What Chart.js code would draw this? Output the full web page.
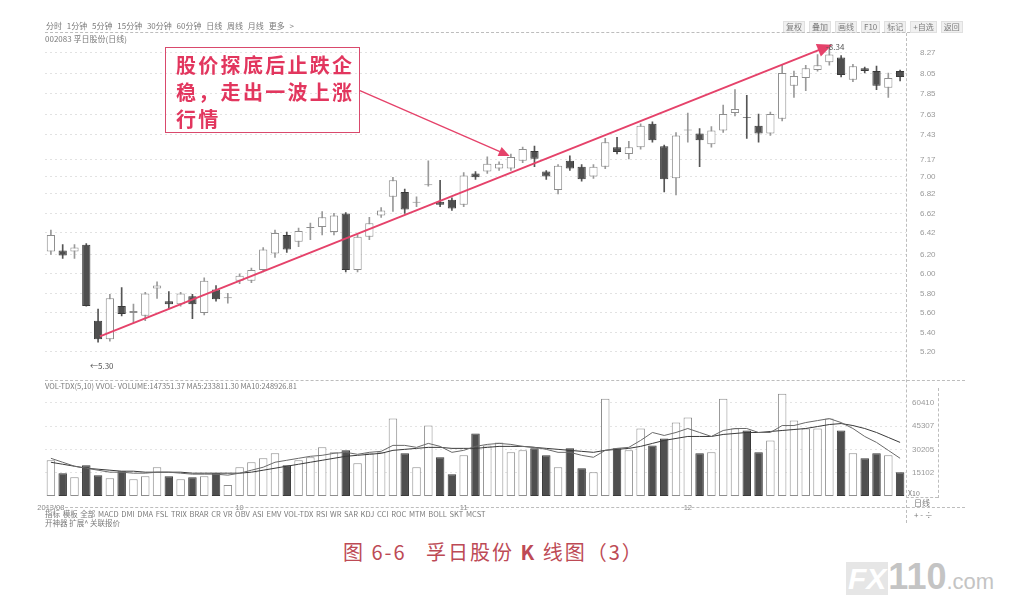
<!DOCTYPE html>
<html><head><meta charset="utf-8">
<script src="https://cdn.jsdelivr.net/npm/chart.js@4.4.0/dist/chart.umd.min.js"></script>
<style>
html,body{margin:0;padding:0;background:#fff;}
#wrap{position:relative;width:1013px;height:597px;overflow:hidden;background:#fff;font-family:"Noto Sans CJK SC","Noto Sans",sans-serif;}
canvas{position:absolute;left:0;}
.t{position:absolute;white-space:nowrap;color:#7a7a7a;font-size:8px;line-height:10px;}
.hl{position:absolute;height:0;border-top:1px dashed #bdbdbd;}
.vl{position:absolute;width:0;border-left:1px dashed #bdbdbd;}
.btn{display:inline-block;padding:0 2px;margin-right:4px;background:#f0f0f0;border:1px solid #e0e0e0;}
#note{position:absolute;left:165px;top:47px;width:195px;height:86px;border:1.5px solid #d9496c;box-sizing:border-box;
 color:#e2365e;font-weight:700;font-size:20px;line-height:27px;padding:3px 0 0 10px;letter-spacing:2.3px;}
#cap{position:absolute;left:343px;top:537px;color:#bd4a55;font-size:20px;letter-spacing:2px;white-space:nowrap;}
#wm{position:absolute;left:846px;top:556px;color:#c4c4c4;white-space:nowrap;font-family:"Liberation Sans",sans-serif;}
</style></head>
<body><div id="wrap">
<canvas id="pc" width="1013" height="380" style="top:0"></canvas>
<canvas id="vc" width="1013" height="140" style="top:380px"></canvas>

<div class="t" style="left:46px;top:21px;word-spacing:3px">分时 1分钟 5分钟 15分钟 30分钟 60分钟 日线 周线 月线 更多 &gt;</div>
<div class="t" style="left:45px;top:34px">002083 孚日股份(日线)</div>
<div class="t" style="left:783px;top:21px"><span class="btn">复权</span><span class="btn">叠加</span><span class="btn">画线</span><span class="btn">F10</span><span class="btn">标记</span><span class="btn">+自选</span><span class="btn">返回</span></div>
<div class="hl" style="left:45px;top:32px;width:865px"></div>
<div class="vl" style="left:906px;top:33px;height:490px"></div>
<div class="hl" style="left:45px;top:380px;width:920px"></div>
<div class="vl" style="left:938px;top:388px;height:110px"></div>
<div class="hl" style="left:906px;top:497px;width:32px"></div>
<div class="hl" style="left:45px;top:507px;width:920px"></div>
<div class="t" style="left:45px;top:381px;font-size:7.5px">VOL-TDX(5,10) VVOL- VOLUME:147351.37 MA5:233811.30 MA10:248926.81</div>
<div class="t" style="left:45px;top:509px;font-size:7.5px;word-spacing:1px">指标 模板 全部 MACD DMI DMA FSL TRIX BRAR CR VR OBV ASI EMV VOL-TDX RSI WR SAR KDJ CCI ROC MTM BOLL SKT MCST</div>
<div class="t" style="left:45px;top:518px;font-size:7.5px">开神器 扩展^ 关联报价</div>
<div class="t" style="left:908px;top:488px;font-size:7px">X10</div>
<div class="t" style="left:914px;top:498px">日线</div>
<div class="t" style="left:914px;top:510px">+ - ÷</div>
<div class="t" style="left:826px;top:42px;color:#555">-8.34</div>
<div class="t" style="left:90px;top:361px;color:#555">←5.30</div>

<div id="note">股价探底后止跌企<br>稳，走出一波上涨<br>行情</div>
<div id="cap">图 6-6&nbsp;&nbsp;&nbsp;孚日股份 <b>K</b> 线图（3）</div>
<div id="wm"><span style="font-size:30px;font-weight:700;font-style:italic;background:#e6e6e6;color:#fff;padding:0 2px">FX</span><span style="font-size:36px;font-weight:700">110</span><span style="font-size:22px">.com</span></div>
</div>
<script>
// ---------- DATA ----------
const opens  = [6.23,6.24,6.23,6.30,5.52,5.33,5.67,5.60,5.57,5.85,5.72,5.69,5.77,5.60,5.84,5.75,5.93,5.93,6.04,6.21,6.40,6.33,6.47,6.48,6.43,6.62,6.04,6.38,6.60,6.79,6.84,6.73,6.91,6.74,6.76,6.71,7.03,7.05,7.08,7.08,7.16,7.26,7.05,6.86,7.16,7.10,7.00,7.10,7.30,7.23,7.30,7.54,7.31,6.98,7.47,7.44,7.33,7.47,7.65,7.61,7.52,7.44,7.59,7.93,8.01,8.09,8.17,8.22,7.99,8.11,8.08,7.91,8.08];
const highs  = [6.45,6.30,6.30,6.31,5.64,5.79,5.86,5.69,5.81,5.92,5.82,5.81,5.79,5.96,5.88,5.80,6.00,6.06,6.27,6.45,6.43,6.47,6.52,6.64,6.62,6.63,6.40,6.58,6.68,6.99,6.87,6.79,7.16,6.96,6.78,7.04,7.05,7.20,7.15,7.23,7.30,7.31,7.06,7.12,7.21,7.12,7.12,7.39,7.40,7.36,7.54,7.56,7.32,7.45,7.65,7.49,7.51,7.73,7.89,7.83,7.64,7.66,8.14,8.08,8.14,8.25,8.34,8.24,8.15,8.12,8.13,8.06,8.09];
const lows   = [6.20,6.16,6.16,5.67,5.30,5.31,5.57,5.50,5.52,5.75,5.64,5.67,5.54,5.58,5.72,5.70,5.90,5.91,6.02,6.17,6.22,6.28,6.35,6.40,6.40,6.02,6.02,6.35,6.58,6.64,6.62,6.69,6.90,6.69,6.65,6.69,6.97,7.03,7.06,7.06,7.14,7.10,6.97,6.82,7.06,6.95,6.98,7.08,7.23,7.18,7.28,7.35,6.84,6.81,7.35,7.10,7.30,7.45,7.62,7.39,7.35,7.42,7.57,7.81,7.88,8.08,8.14,8.02,7.97,8.06,7.89,7.81,7.98];
const closes = [6.40,6.19,6.27,5.67,5.33,5.75,5.59,5.62,5.80,5.88,5.69,5.80,5.69,5.93,5.74,5.76,5.98,6.04,6.25,6.42,6.25,6.44,6.48,6.58,6.60,6.04,6.38,6.52,6.65,6.96,6.66,6.74,6.92,6.71,6.67,7.01,6.99,7.13,7.13,7.20,7.28,7.18,7.00,7.11,7.08,6.97,7.10,7.35,7.25,7.30,7.52,7.37,6.97,7.42,7.48,7.37,7.47,7.64,7.69,7.60,7.44,7.64,8.06,8.03,8.11,8.14,8.25,8.04,8.13,8.08,7.93,8.01,8.02];
const volumes = [23134,14780,12209,19921,13495,11567,16065,10924,12852,18635,12852,10924,12209,12852,14780,7069,18635,21848,24419,27632,19921,23134,25061,31487,28274,29560,21206,27632,28274,50123,27632,18635,45625,25061,14137,26347,40484,32773,34700,28274,29560,30845,26347,18635,30845,17993,15422,62975,30845,29560,43697,32773,37271,47552,50765,27632,28274,62975,43697,42412,28274,35986,66188,48838,43697,43697,50123,42412,27632,24419,27632,26347,15422];
const volMA5  = [24419,21848,19278,17993,16708,15422,15422,14780,14780,15422,15422,14780,14137,14137,14137,13495,14780,16708,18635,21848,23134,24419,25704,26347,27632,28274,26989,28274,28917,32773,32773,31487,34058,32130,28274,29560,32130,33415,34058,33415,32130,31487,30202,28274,28274,26347,25061,29560,30845,31487,35986,41126,39199,41126,43697,41126,38556,42412,43697,43697,41126,41126,45625,45625,47552,48838,50123,47552,43697,38556,34700,29560,24419];
const volMA10 = [21848,20563,19278,17993,17350,16708,16065,16065,15422,15422,15422,15422,14780,14780,14780,14780,14780,15422,16708,17993,19278,20563,21848,23134,24419,25704,26347,26989,27632,29560,30202,30845,31487,31487,30845,30845,30845,31487,32130,32130,32130,31487,30845,30202,29560,28917,28274,29560,30202,30845,32130,34058,35986,37271,38556,38556,38556,39841,40484,41126,41126,41769,42412,43054,43697,44982,46267,46910,45625,43697,41126,37913,34700];
const priceTicks = [5.20,5.40,5.60,5.80,6.00,6.20,6.42,6.62,6.82,7.00,7.17,7.43,7.63,7.85,8.05,8.27];
const volTicks = [15102,30205,45307,60410];
const monthTickIndex = [0,16,35,54];
const monthTickText = ['2013/08','10','11','12'];
const trendArrow = {from:[4.16,5.36], to:[66.25,8.35]};
const noteArrow  = {from:[26.2,7.88], to:[38.9,7.21]};
const days = opens.map((_, i) => String(i + 1));

// ---------- STYLE ----------
const isUp = opens.map((o, i) => closes[i] >= o);
const DARK = '#4f4f4f', HOLLOW_EDGE = '#8e8e8e';
const tickFont = {family:'Liberation Sans', size:8};

function arrowPlugin(arrs){
  return {id:'arrows', afterDatasetsDraw(chart){
    const {ctx, scales:{x,y}} = chart;
    arrs.forEach(a => {
      const x1=x.getPixelForValue(a.from[0]), y1=y.getPixelForValue(a.from[1]);
      const x2=x.getPixelForValue(a.to[0]), y2=y.getPixelForValue(a.to[1]);
      const ang=Math.atan2(y2-y1,x2-x1), L=a.head, W=a.head*0.45;
      ctx.save();
      ctx.strokeStyle=a.color; ctx.fillStyle=a.color; ctx.lineWidth=a.width;
      ctx.beginPath(); ctx.moveTo(x1,y1);
      ctx.lineTo(x2-Math.cos(ang)*L*0.8, y2-Math.sin(ang)*L*0.8); ctx.stroke();
      ctx.beginPath(); ctx.moveTo(x2,y2);
      ctx.lineTo(x2-Math.cos(ang)*L+Math.sin(ang)*W, y2-Math.sin(ang)*L-Math.cos(ang)*W);
      ctx.lineTo(x2-Math.cos(ang)*L-Math.sin(ang)*W, y2-Math.sin(ang)*L+Math.cos(ang)*W);
      ctx.closePath(); ctx.fill();
      ctx.restore();
    });
  }};
}

new Chart(document.getElementById('pc'), {
  type:'bar',
  data:{labels:days, datasets:[
    {data:opens.map((o,i)=>[o,closes[i]]), grouped:false,
     backgroundColor:isUp.map(u=>u?'#ffffff':DARK), borderColor:isUp.map(u=>u?HOLLOW_EDGE:'#3a3a3a'),
     borderWidth:1, borderSkipped:false, categoryPercentage:1, barPercentage:0.7},
    {data:lows.map((l,i)=>[l,highs[i]]), grouped:false, barThickness:1,
     backgroundColor:isUp.map(u=>u?'#9a9a9a':'#555'), borderWidth:0}
  ]},
  options:{responsive:false, animation:false, events:[],
    layout:{padding:{left:45, top:42, bottom:2, right:0}},
    plugins:{legend:{display:false}, tooltip:{enabled:false}},
    scales:{
      x:{display:false, offset:true},
      y:{position:'right', min:5.105, max:8.378,
        afterFit(s){s.width=107;},
        afterBuildTicks(s){s.ticks=priceTicks.map(v=>({value:v}));},
        ticks:{font:tickFont, color:'#9a9a9a', padding:14, callback:v=>Number(v).toFixed(2)},
        grid:{color:'#e2e2e2', drawTicks:false},
        border:{display:false, dash:[2,3]}}
    }},
  plugins:[arrowPlugin([
    {from:trendArrow.from, to:trendArrow.to, color:'#e5426a', width:2, head:15},
    {from:noteArrow.from, to:noteArrow.to, color:'#e5426a', width:1.3, head:11}
  ])]
});

new Chart(document.getElementById('vc'), {
  type:'bar',
  data:{labels:days, datasets:[
    {type:'line', data:volMA5, borderColor:'#6a6a6a', borderWidth:1, pointRadius:0, tension:0},
    {type:'line', data:volMA10, borderColor:'#3a3a3a', borderWidth:1, pointRadius:0, tension:0},
    {data:volumes, backgroundColor:isUp.map(u=>u?'#ffffff':DARK), borderColor:isUp.map(u=>u?HOLLOW_EDGE:'#3a3a3a'),
     borderWidth:1, borderSkipped:false, categoryPercentage:1, barPercentage:0.72}
  ]},
  options:{responsive:false, animation:false, events:[],
    layout:{padding:{left:45, top:10, bottom:0, right:0}},
    plugins:{legend:{display:false}, tooltip:{enabled:false}},
    scales:{
      x:{offset:true, afterFit(s){s.height=24;},
        grid:{display:false}, border:{display:false},
        ticks:{autoSkip:false, maxRotation:0, font:{family:'Liberation Sans', size:7.5}, color:'#8a8a8a', padding:-1,
          callback:(v,i)=>{const k=monthTickIndex.indexOf(i); return k>=0?monthTickText[k]:'';}}},
      y:{position:'right', min:0, max:68116,
        afterFit(s){s.width=107;},
        afterBuildTicks(s){s.ticks=volTicks.map(v=>({value:v}));},
        ticks:{font:tickFont, color:'#9a9a9a', padding:6, callback:v=>String(v)},
        grid:{color:'#e4e4e4', drawTicks:false},
        border:{display:false, dash:[2,3]}}
    }}
});
</script>
</body></html>
